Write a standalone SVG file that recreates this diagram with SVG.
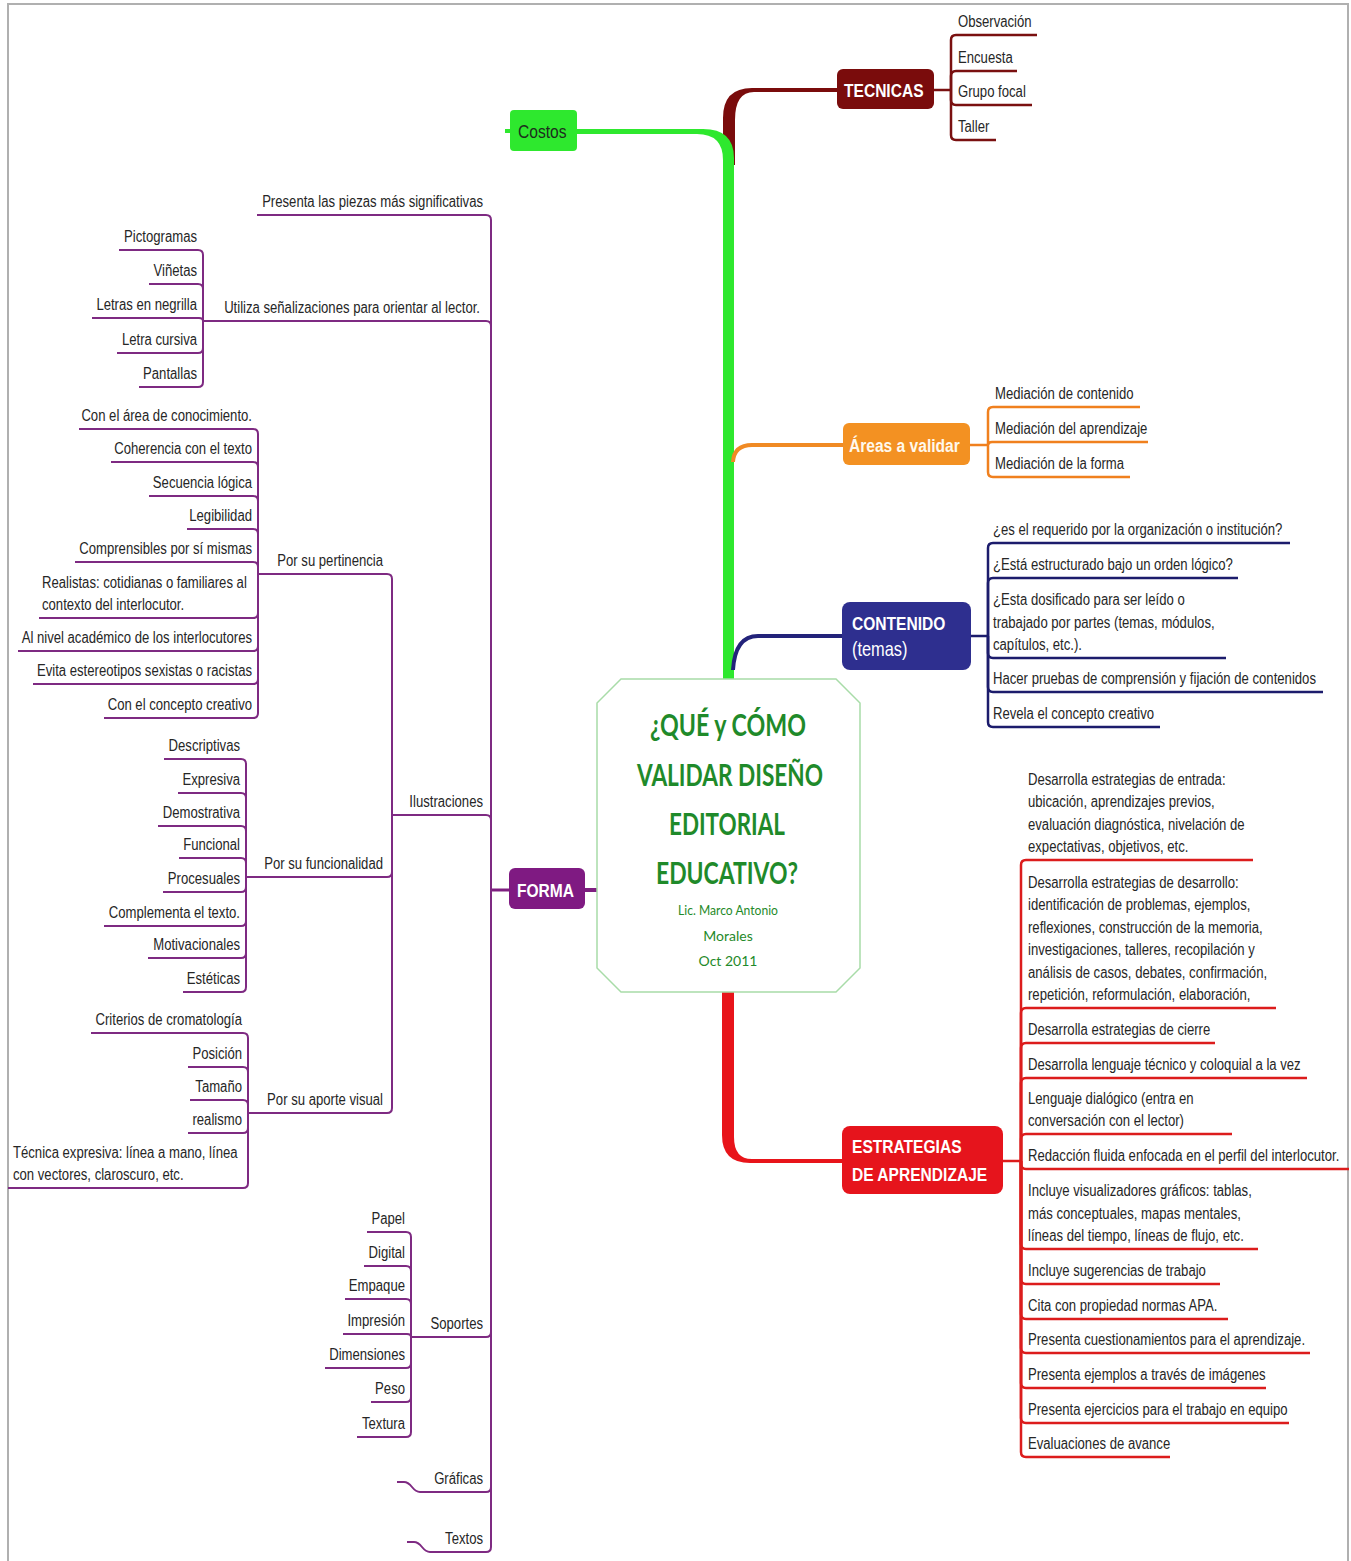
<svg xmlns="http://www.w3.org/2000/svg" width="1351" height="1561" viewBox="0 0 1351 1561">
<style>
text{font-family:"Liberation Sans","Arial",sans-serif;font-size:16px;fill:#262626}
.e{text-anchor:end}
.bx{font-size:19px;font-weight:bold;fill:#fff}
.title{font-family:Lato,"Liberation Sans",sans-serif;font-weight:bold;font-size:31px;fill:#1f8a2a;text-anchor:middle}
.sub{font-family:Lato,"Liberation Sans",sans-serif;font-size:14px;fill:#1f8a2a;text-anchor:middle}
.pu{fill:none;stroke:#7e2a82;stroke-width:2}
.rd{fill:none;stroke:#dc1c1c;stroke-width:2.5}
.nv{fill:none;stroke:#1c1c6c;stroke-width:2.5}
.or{fill:none;stroke:#f0801e;stroke-width:2.5}
.mr{fill:none;stroke:#7a1010;stroke-width:2.5}
</style>
<rect x="8" y="4" width="1340" height="1580" fill="#fff" stroke="#b0b0b0" stroke-width="2"/>

<g id="connectors">
  <path d="M723,165 V118 Q723,88 752,88 H837 V92 H754 Q735,92 735,120 V165 Z" fill="#7a0c0c"/>
  <path d="M723,679 V160 Q723,134 697,134 H577 V129 H703 Q734,129 734,158 V679 Z" fill="#2ee82e"/>
  <rect x="505" y="129" width="6" height="4" fill="#2ee82e"/>
  <path d="M733,462 Q734,445 752,445 H843" fill="none" stroke="#f08a24" stroke-width="4"/>
  <path d="M733,670 Q735,636 758,636 H842" fill="none" stroke="#23237a" stroke-width="4"/>
  <path d="M722,992 V1135 Q722,1163 750,1163 H842 V1159 H752 Q734,1159 734,1137 V992 Z" fill="#e8141a"/>
  <path d="M585,890 H597" fill="none" stroke="#7e1f80" stroke-width="4"/>
  <path d="M509,890 H491" fill="none" stroke="#7e1f80" stroke-width="3"/>

  <g class="mr">
    <path d="M934,90 H951"/>
    <path d="M951,90 V40 Q951,35 956,35 H1037"/>
    <path d="M951,90 V76 Q951,71 956,71 H1017"/>
    <path d="M951,90 V100 Q951,105 956,105 H1032"/>
    <path d="M951,90 V135 Q951,140 956,140 H996"/>
  </g>
  <g class="or">
    <path d="M970,445 H988"/>
    <path d="M988,445 V412 Q988,407 993,407 H1140"/>
    <path d="M988,445 Q988,442 992,442 H1148"/>
    <path d="M988,445 V472 Q988,477 993,477 H1130"/>
  </g>
  <g class="nv">
    <path d="M971,636 H988"/>
    <path d="M988,636 V548 Q988,543 993,543 H1290"/>
    <path d="M988,636 V583 Q988,578 993,578 H1238"/>
    <path d="M988,636 V653 Q988,658 993,658 H1226"/>
    <path d="M988,636 V687 Q988,692 993,692 H1323"/>
    <path d="M988,636 V722 Q988,727 993,727 H1160"/>
  </g>
  <g class="rd">
    <path d="M1003,1161 H1021"/>
    <path d="M1021,1161 V865 Q1021,860 1026,860 H1253"/>
    <path d="M1021,1161 V1013 Q1021,1008 1026,1008 H1276"/>
    <path d="M1021,1161 V1048 Q1021,1043 1026,1043 H1215"/>
    <path d="M1021,1161 V1083 Q1021,1078 1026,1078 H1307"/>
    <path d="M1021,1161 V1139 Q1021,1134 1026,1134 H1232"/>
    <path d="M1021,1161 V1164 Q1021,1169 1026,1169 H1349"/>
    <path d="M1021,1161 V1244 Q1021,1249 1026,1249 H1258"/>
    <path d="M1021,1161 V1279 Q1021,1284 1026,1284 H1220"/>
    <path d="M1021,1161 V1314 Q1021,1319 1026,1319 H1228"/>
    <path d="M1021,1161 V1348 Q1021,1353 1026,1353 H1310"/>
    <path d="M1021,1161 V1383 Q1021,1388 1026,1388 H1266"/>
    <path d="M1021,1161 V1418 Q1021,1423 1026,1423 H1289"/>
    <path d="M1021,1161 V1452 Q1021,1457 1026,1457 H1170"/>
  </g>
  <g class="pu" stroke-width="2.5">
    <path d="M491,890 V220 Q491,215 486,215 H257"/>
    <path d="M491,890 V326 Q491,321 486,321 H203"/>
    <path d="M491,890 V820 Q491,815 486,815 H392"/>
    <path d="M491,890 V1332 Q491,1337 486,1337 H411"/>
    <path d="M491,890 V1487 Q491,1492 486,1492 H420 C412,1492 412,1482 404,1482 H397"/>
    <path d="M491,890 V1547 Q491,1552 486,1552 H430 C422,1552 422,1542 414,1542 H407"/>
  </g>
  <g class="pu">
    <path d="M203,321 V255 Q203,250 198,250 H119"/>
    <path d="M203,321 V289 Q203,284 198,284 H149"/>
    <path d="M203,321 Q203,318 199,318 H92"/>
    <path d="M203,321 V348 Q203,353 198,353 H117"/>
    <path d="M203,321 V382 Q203,387 198,387 H139"/>
  </g>
  <g class="pu">
    <path d="M392,815 V579 Q392,574 387,574 H258"/>
    <path d="M392,815 V872 Q392,877 387,877 H246"/>
    <path d="M392,815 V1108 Q392,1113 387,1113 H248"/>
  </g>
  <g class="pu">
    <path d="M258,574 V434 Q258,429 253,429 H79"/>
    <path d="M258,574 V467 Q258,462 253,462 H111"/>
    <path d="M258,574 V501 Q258,496 253,496 H149"/>
    <path d="M258,574 V534 Q258,529 253,529 H187"/>
    <path d="M258,574 V567 Q258,562 253,562 H75"/>
    <path d="M258,574 V613 Q258,618 253,618 H39"/>
    <path d="M258,574 V646 Q258,651 253,651 H18"/>
    <path d="M258,574 V679 Q258,684 253,684 H33"/>
    <path d="M258,574 V713 Q258,718 253,718 H104"/>
  </g>
  <g class="pu">
    <path d="M246,877 V764 Q246,759 241,759 H164"/>
    <path d="M246,877 V798 Q246,793 241,793 H178"/>
    <path d="M246,877 V831 Q246,826 241,826 H158"/>
    <path d="M246,877 V863 Q246,858 241,858 H179"/>
    <path d="M246,877 V887 Q246,892 241,892 H163"/>
    <path d="M246,877 V921 Q246,926 241,926 H104"/>
    <path d="M246,877 V953 Q246,958 241,958 H148"/>
    <path d="M246,877 V987 Q246,992 241,992 H183"/>
  </g>
  <g class="pu">
    <path d="M248,1113 V1038 Q248,1033 243,1033 H91"/>
    <path d="M248,1113 V1072 Q248,1067 243,1067 H188"/>
    <path d="M248,1113 V1105 Q248,1100 243,1100 H190"/>
    <path d="M248,1113 V1128 Q248,1133 243,1133 H188"/>
    <path d="M248,1113 V1183 Q248,1188 243,1188 H8"/>
  </g>
  <g class="pu">
    <path d="M411,1337 V1237 Q411,1232 406,1232 H367"/>
    <path d="M411,1337 V1271 Q411,1266 406,1266 H364"/>
    <path d="M411,1337 V1304 Q411,1299 406,1299 H345"/>
    <path d="M411,1337 Q411,1334 407,1334 H343"/>
    <path d="M411,1337 V1363 Q411,1368 406,1368 H325"/>
    <path d="M411,1337 V1397 Q411,1402 406,1402 H371"/>
    <path d="M411,1337 V1432 Q411,1437 406,1437 H357"/>
  </g>
</g>

<g id="center">
  <polygon points="621,679 836,679 860,703 860,968 836,992 621,992 597,968 597,703" fill="#fff" stroke="#a8dca8" stroke-width="1.5"/>
  <text class="title" x="728" y="736" textLength="156" lengthAdjust="spacingAndGlyphs">¿QUÉ y CÓMO</text>
  <text class="title" x="730" y="786" textLength="186" lengthAdjust="spacingAndGlyphs">VALIDAR DISEÑO</text>
  <text class="title" x="727" y="835" textLength="116" lengthAdjust="spacingAndGlyphs">EDITORIAL</text>
  <text class="title" x="727" y="884" textLength="142" lengthAdjust="spacingAndGlyphs">EDUCATIVO?</text>
  <text class="sub" x="728" y="915" textLength="100" lengthAdjust="spacingAndGlyphs">Lic. Marco Antonio</text>
  <text class="sub" x="728" y="941">Morales</text>
  <text class="sub" x="728" y="966">Oct 2011</text>
</g>

<g id="costos">
  <rect x="510" y="110" width="67" height="41" rx="4" fill="#2ee82e"/>
  <text transform="matrix(.82 0 0 1 518 138)" style="font-size:19px;fill:#1d2d1d">Costos</text>
</g>

<g id="tecnicas">
  <rect x="837" y="69" width="97" height="40" rx="6" fill="#7a0c0c"/>
  <text class="bx" transform="matrix(.82 0 0 1 844 97)">TECNICAS</text>
  <text transform="matrix(.82 0 0 1 958 27)">Observación</text>
  <text transform="matrix(.82 0 0 1 958 63)">Encuesta</text>
  <text transform="matrix(.82 0 0 1 958 97)">Grupo focal</text>
  <text transform="matrix(.82 0 0 1 958 132)">Taller</text>
</g>

<g id="areas">
  <rect x="843" y="423" width="127" height="42" rx="6" fill="#f39122"/>
  <text class="bx" transform="matrix(.82 0 0 1 849 452)" style="fill:#fff8ec">Áreas a validar</text>
  <text transform="matrix(.82 0 0 1 995 399)">Mediación de contenido</text>
  <text transform="matrix(.82 0 0 1 995 434)">Mediación del aprendizaje</text>
  <text transform="matrix(.82 0 0 1 995 469)">Mediación de la forma</text>
</g>

<g id="contenido">
  <rect x="842" y="602" width="129" height="68" rx="8" fill="#2e2f8f"/>
  <text class="bx" transform="matrix(.82 0 0 1 852 630)">CONTENIDO</text>
  <text class="bx" transform="matrix(.82 0 0 1 852 656)" style="font-weight:normal;font-size:20px">(temas)</text>
  <text transform="matrix(.82 0 0 1 993 535)">¿es el requerido por la organización o institución?</text>
  <text transform="matrix(.82 0 0 1 993 570)">¿Está estructurado bajo un orden lógico?</text>
  <text transform="matrix(.82 0 0 1 993 605)">¿Esta dosificado para ser leído o</text>
  <text transform="matrix(.82 0 0 1 993 627.5)">trabajado por partes (temas, módulos,</text>
  <text transform="matrix(.82 0 0 1 993 650)">capítulos, etc.).</text>
  <text transform="matrix(.82 0 0 1 993 684)">Hacer pruebas de comprensión y fijación de contenidos</text>
  <text transform="matrix(.82 0 0 1 993 719)">Revela el concepto creativo</text>
</g>

<g id="estrategias">
  <rect x="842" y="1126" width="161" height="68" rx="8" fill="#e6141c"/>
  <text class="bx" transform="matrix(.82 0 0 1 852 1153)">ESTRATEGIAS</text>
  <text class="bx" transform="matrix(.82 0 0 1 852 1181)">DE APRENDIZAJE</text>
  <text transform="matrix(.82 0 0 1 1028 784.5)">Desarrolla estrategias de entrada:</text>
  <text transform="matrix(.82 0 0 1 1028 807)">ubicación, aprendizajes previos,</text>
  <text transform="matrix(.82 0 0 1 1028 829.5)">evaluación diagnóstica, nivelación de</text>
  <text transform="matrix(.82 0 0 1 1028 852)">expectativas, objetivos, etc.</text>
  <text transform="matrix(.82 0 0 1 1028 887.5)">Desarrolla estrategias de desarrollo:</text>
  <text transform="matrix(.82 0 0 1 1028 910)">identificación de problemas, ejemplos,</text>
  <text transform="matrix(.82 0 0 1 1028 932.5)">reflexiones, construcción de la memoria,</text>
  <text transform="matrix(.82 0 0 1 1028 955)">investigaciones, talleres, recopilación y</text>
  <text transform="matrix(.82 0 0 1 1028 977.5)">análisis de casos, debates, confirmación,</text>
  <text transform="matrix(.82 0 0 1 1028 1000)">repetición, reformulación, elaboración,</text>
  <text transform="matrix(.82 0 0 1 1028 1035)">Desarrolla estrategias de cierre</text>
  <text transform="matrix(.82 0 0 1 1028 1070)">Desarrolla lenguaje técnico y coloquial a la vez</text>
  <text transform="matrix(.82 0 0 1 1028 1103.5)">Lenguaje dialógico (entra en</text>
  <text transform="matrix(.82 0 0 1 1028 1126)">conversación con el lector)</text>
  <text transform="matrix(.82 0 0 1 1028 1161)">Redacción fluida enfocada en el perfil del interlocutor.</text>
  <text transform="matrix(.82 0 0 1 1028 1196)">Incluye visualizadores gráficos: tablas,</text>
  <text transform="matrix(.82 0 0 1 1028 1218.5)">más conceptuales, mapas mentales,</text>
  <text transform="matrix(.82 0 0 1 1028 1241)">líneas del tiempo, líneas de flujo, etc.</text>
  <text transform="matrix(.82 0 0 1 1028 1276)">Incluye sugerencias de trabajo</text>
  <text transform="matrix(.82 0 0 1 1028 1311)">Cita con propiedad normas APA.</text>
  <text transform="matrix(.82 0 0 1 1028 1345)">Presenta cuestionamientos para el aprendizaje.</text>
  <text transform="matrix(.82 0 0 1 1028 1380)">Presenta ejemplos a través de imágenes</text>
  <text transform="matrix(.82 0 0 1 1028 1415)">Presenta ejercicios para el trabajo en equipo</text>
  <text transform="matrix(.82 0 0 1 1028 1449)">Evaluaciones de avance</text>
</g>

<g id="forma">
  <rect x="509" y="868" width="76" height="41" rx="6" fill="#7f1a82"/>
  <text class="bx" transform="matrix(.82 0 0 1 517 897)">FORMA</text>
  <text class="e" transform="matrix(.82 0 0 1 483 207)">Presenta las piezas más significativas</text>
  <text class="e" transform="matrix(.82 0 0 1 480 313)">Utiliza señalizaciones para orientar al lector.</text>
  <text class="e" transform="matrix(.82 0 0 1 483 807)">Ilustraciones</text>
  <text class="e" transform="matrix(.82 0 0 1 483 1329)">Soportes</text>
  <text class="e" transform="matrix(.82 0 0 1 483 1484)">Gráficas</text>
  <text class="e" transform="matrix(.82 0 0 1 483 1544)">Textos</text>
</g>

<g id="utiliza">
  <text class="e" transform="matrix(.82 0 0 1 197 242)">Pictogramas</text>
  <text class="e" transform="matrix(.82 0 0 1 197 276)">Viñetas</text>
  <text class="e" transform="matrix(.82 0 0 1 197 310)">Letras en negrilla</text>
  <text class="e" transform="matrix(.82 0 0 1 197 345)">Letra cursiva</text>
  <text class="e" transform="matrix(.82 0 0 1 197 379)">Pantallas</text>
</g>

<g id="ilustraciones">
  <text class="e" transform="matrix(.82 0 0 1 383 566)">Por su pertinencia</text>
  <text class="e" transform="matrix(.82 0 0 1 383 869)">Por su funcionalidad</text>
  <text class="e" transform="matrix(.82 0 0 1 383 1105)">Por su aporte visual</text>
</g>

<g id="pertinencia">
  <text class="e" transform="matrix(.82 0 0 1 252 421)">Con el área de conocimiento.</text>
  <text class="e" transform="matrix(.82 0 0 1 252 454)">Coherencia con el texto</text>
  <text class="e" transform="matrix(.82 0 0 1 252 488)">Secuencia lógica</text>
  <text class="e" transform="matrix(.82 0 0 1 252 521)">Legibilidad</text>
  <text class="e" transform="matrix(.82 0 0 1 252 554)">Comprensibles por sí mismas</text>
  <text transform="matrix(.82 0 0 1 42 587.5)">Realistas: cotidianas o familiares al</text>
  <text transform="matrix(.82 0 0 1 42 610)">contexto del interlocutor.</text>
  <text class="e" transform="matrix(.82 0 0 1 252 643)">Al nivel académico de los interlocutores</text>
  <text class="e" transform="matrix(.82 0 0 1 252 676)">Evita estereotipos sexistas o racistas</text>
  <text class="e" transform="matrix(.82 0 0 1 252 710)">Con el concepto creativo</text>
</g>

<g id="funcionalidad">
  <text class="e" transform="matrix(.82 0 0 1 240 751)">Descriptivas</text>
  <text class="e" transform="matrix(.82 0 0 1 240 785)">Expresiva</text>
  <text class="e" transform="matrix(.82 0 0 1 240 818)">Demostrativa</text>
  <text class="e" transform="matrix(.82 0 0 1 240 850)">Funcional</text>
  <text class="e" transform="matrix(.82 0 0 1 240 884)">Procesuales</text>
  <text class="e" transform="matrix(.82 0 0 1 240 918)">Complementa el texto.</text>
  <text class="e" transform="matrix(.82 0 0 1 240 950)">Motivacionales</text>
  <text class="e" transform="matrix(.82 0 0 1 240 984)">Estéticas</text>
</g>

<g id="aporte">
  <text class="e" transform="matrix(.82 0 0 1 242 1025)">Criterios de cromatología</text>
  <text class="e" transform="matrix(.82 0 0 1 242 1059)">Posición</text>
  <text class="e" transform="matrix(.82 0 0 1 242 1092)">Tamaño</text>
  <text class="e" transform="matrix(.82 0 0 1 242 1125)">realismo</text>
  <text transform="matrix(.82 0 0 1 13 1157.5)">Técnica expresiva: línea a mano, línea</text>
  <text transform="matrix(.82 0 0 1 13 1180)">con vectores, claroscuro, etc.</text>
</g>

<g id="soportes">
  <text class="e" transform="matrix(.82 0 0 1 405 1224)">Papel</text>
  <text class="e" transform="matrix(.82 0 0 1 405 1258)">Digital</text>
  <text class="e" transform="matrix(.82 0 0 1 405 1291)">Empaque</text>
  <text class="e" transform="matrix(.82 0 0 1 405 1326)">Impresión</text>
  <text class="e" transform="matrix(.82 0 0 1 405 1360)">Dimensiones</text>
  <text class="e" transform="matrix(.82 0 0 1 405 1394)">Peso</text>
  <text class="e" transform="matrix(.82 0 0 1 405 1429)">Textura</text>
</g>
</svg>
